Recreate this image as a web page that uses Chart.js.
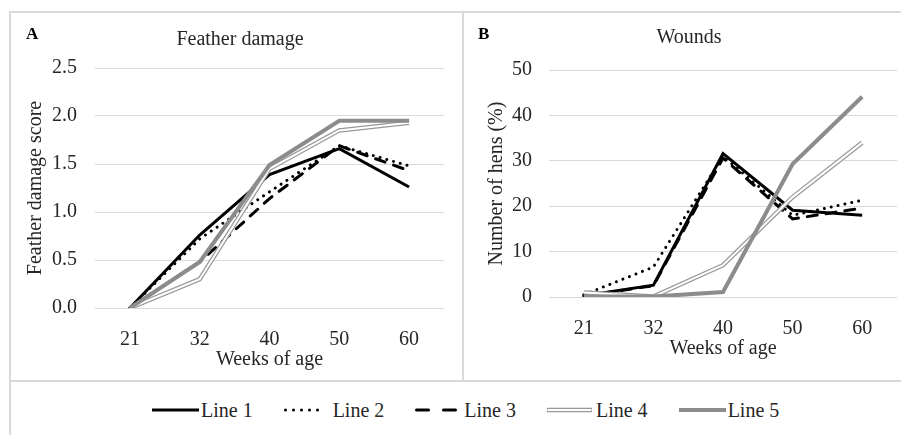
<!DOCTYPE html>
<html>
<head>
<meta charset="utf-8">
<script src="https://cdn.jsdelivr.net/npm/chart.js@4"></script>
<style>
  html, body { margin: 0; padding: 0; background: #fff; }
  body { width: 901px; height: 435px; position: relative; overflow: hidden; font-family: "Liberation Serif", "Times New Roman", serif; }
  canvas { position: absolute; }
  .rule { position: absolute; background: #d9d9d9; }
  #legend { position: absolute; left: 152px; top: 398px; display: flex; align-items: center; height: 24px; }
  .item { display: flex; align-items: center; margin-right: 31px; font-size: 20px; color: #262626; }
  .item svg { margin-right: 2px; }
</style>
</head>
<body>
<canvas id="chartA" width="453" height="370" style="left:10px; top:11px;"></canvas>
<canvas id="chartB" width="438" height="370" style="left:463px; top:11px;"></canvas>
<div class="rule" style="left:9px; top:11px; width:892px; height:2px;"></div>
<div class="rule" style="left:9px; top:11px; width:2px; height:424px;"></div>
<div class="rule" style="left:462px; top:11px; width:2px; height:370px;"></div>
<div class="rule" style="left:9px; top:380px; width:892px; height:2px;"></div>
<div id="legend"></div>

<script>
const weeks = ['21', '32', '40', '50', '60'];
const lineNames = ['Line 1', 'Line 2', 'Line 3', 'Line 4', 'Line 5'];

// Feather damage score
const featherLine1 = [0, 0.76, 1.39, 1.66, 1.26];
const featherLine2 = [0, 0.72, 1.21, 1.69, 1.48];
const featherLine3 = [0, 0.48, 1.14, 1.69, 1.43];
const featherLine4 = [0, 0.30, 1.45, 1.85, 1.93];
const featherLine5 = [0, 0.48, 1.49, 1.95, 1.95];

// Wounds, % of hens
const woundLine1 = [0.3, 2.6, 31.6, 19.1, 18.0];
const woundLine2 = [0.5, 6.6, 31.0, 18.0, 21.3];
const woundLine3 = [0.2, 2.5, 30.6, 17.2, 19.6];
const woundLine4 = [1.0, 0.1, 7.0, 22.0, 34.0];
const woundLine5 = [0.1, 0.1, 1.1, 29.3, 44.1];

const FONT = '"Liberation Serif", "Times New Roman", serif';
const TEXT = '#262626';
const GRID = '#d9d9d9';

Chart.defaults.font.family = FONT;
Chart.defaults.font.size = 20;
Chart.defaults.color = TEXT;

// panel letter + title, placed like the Excel figure
const panelText = {
  id: 'panelText',
  afterDraw(chart, args, opts) {
    const ctx = chart.ctx;
    ctx.save();
    ctx.fillStyle = '#000';
    ctx.textBaseline = 'alphabetic';
    ctx.font = 'bold 17px ' + FONT;
    ctx.textAlign = 'left';
    ctx.fillText(opts.letter, opts.letterX, opts.letterY);
    ctx.fillStyle = TEXT;
    ctx.font = '20px ' + FONT;
    ctx.textAlign = 'center';
    ctx.fillText(opts.title, opts.titleX, opts.titleY);
    ctx.restore();
  }
};

function makeDatasets(v1, v2, v3, v4, v5) {
  const base = { pointRadius: 0, pointHoverRadius: 0, tension: 0, fill: false };
  return [
    { ...base, label: lineNames[0], data: v1, borderColor: '#000', borderWidth: 3, order: 6 },
    { ...base, label: lineNames[1], data: v2, borderColor: '#000', borderWidth: 3,
      borderDash: [0.01, 7], borderCapStyle: 'round', order: 5 },
    { ...base, label: lineNames[2], data: v3, borderColor: '#000', borderWidth: 3,
      borderDash: [10, 9], borderCapStyle: 'round', order: 4 },
    { ...base, label: lineNames[3], data: v4, borderColor: '#999999', borderWidth: 4.5, order: 3 },
    { ...base, label: lineNames[3] + ' inner', data: v4, borderColor: '#fff', borderWidth: 2, order: 2 },
    { ...base, label: lineNames[4], data: v5, borderColor: '#8c8c8c', borderWidth: 4, order: 1 }
  ];
}

function makeOptions(cfg) {
  return {
    responsive: false,
    animation: false,
    devicePixelRatio: 1,
    layout: { padding: { top: cfg.padTop, right: cfg.padRight, left: 0, bottom: 0 } },
    plugins: {
      legend: { display: false },
      tooltip: { enabled: false },
      panelText: cfg.text
    },
    scales: {
      x: {
        offset: true,
        grid: { display: false },
        border: { display: false },
        ticks: { padding: 12 },
        title: { display: true, text: 'Weeks of age', padding: { top: 0, bottom: cfg.xTitlePad } },
        afterFit: s => { s.height = cfg.xHeight; }
      },
      y: {
        min: 0,
        max: cfg.yMax,
        grid: { color: GRID, lineWidth: 1, drawTicks: false },
        border: { display: false },
        ticks: { stepSize: cfg.yStep, padding: cfg.yTickPad, callback: cfg.yFormat },
        title: { display: true, text: cfg.yTitle, padding: { top: cfg.yTitlePad, bottom: 0 } },
        afterFit: s => { s.width = cfg.yWidth; }
      }
    }
  };
}

new Chart(document.getElementById('chartA'), {
  type: 'line',
  data: {
    labels: weeks,
    datasets: makeDatasets(featherLine1, featherLine2, featherLine3, featherLine4, featherLine5)
  },
  options: makeOptions({
    padTop: 57, padRight: 19, xHeight: 73, yWidth: 85,
    xTitlePad: 9, yTickPad: 18, yTitlePad: 14,
    yMax: 2.5, yStep: 0.5, yFormat: v => Number(v).toFixed(1),
    yTitle: 'Feather damage score',
    text: { letter: 'A', letterX: 16, letterY: 28, title: 'Feather damage', titleX: 230, titleY: 34 }
  }),
  plugins: [panelText]
});

new Chart(document.getElementById('chartB'), {
  type: 'line',
  data: {
    labels: weeks,
    datasets: makeDatasets(woundLine1, woundLine2, woundLine3, woundLine4, woundLine5)
  },
  options: makeOptions({
    padTop: 59, padRight: 4, xHeight: 84, yWidth: 86,
    xTitlePad: 20, yTickPad: 17, yTitlePad: 22,
    yMax: 50, yStep: 10, yFormat: v => v,
    yTitle: 'Number of hens (%)',
    text: { letter: 'B', letterX: 15, letterY: 28, title: 'Wounds', titleX: 226, titleY: 32 }
  }),
  plugins: [panelText]
});

// shared legend below both panels
const legendSamples = [
  '<line x1="0" y1="6" x2="47" y2="6" stroke="#000" stroke-width="3"/>',
  '<line x1="1.5" y1="6" x2="41.5" y2="6" stroke="#000" stroke-width="3" stroke-linecap="round" stroke-dasharray="0 8"/>',
  '<line x1="1.5" y1="6" x2="40.5" y2="6" stroke="#000" stroke-width="3" stroke-linecap="round" stroke-dasharray="12 15"/>',
  '<line x1="0" y1="6" x2="45" y2="6" stroke="#999999" stroke-width="4.5"/><line x1="0.5" y1="6" x2="44.5" y2="6" stroke="#fff" stroke-width="2"/>',
  '<line x1="0" y1="6" x2="47" y2="6" stroke="#8c8c8c" stroke-width="4"/>'
];
const legend = document.getElementById('legend');
lineNames.forEach((name, i) => {
  const item = document.createElement('div');
  item.className = 'item';
  item.innerHTML = '<svg width="47" height="12">' + legendSamples[i] + '</svg><span>' + name + '</span>';
  legend.appendChild(item);
});
</script>
</body>
</html>
